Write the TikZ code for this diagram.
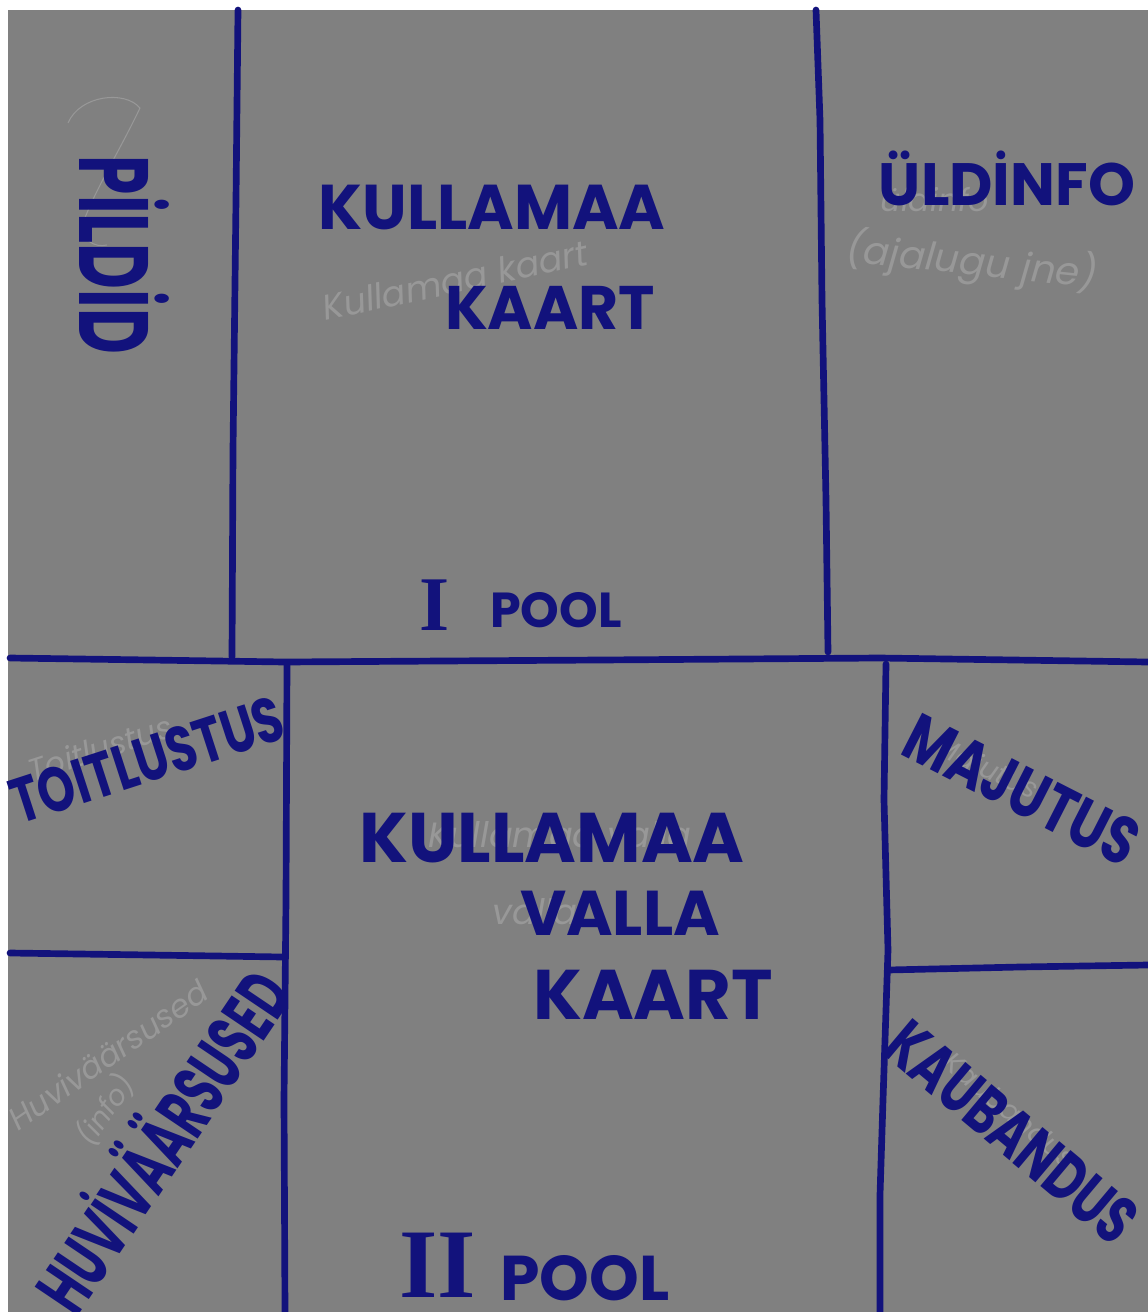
\documentclass[tikz,border=0pt]{standalone}
\usepackage{fontspec}
\setmainfont{Poppins}
\newfontfamily\numfont{Liberation Serif}
\usepackage{xcolor}
\usepackage{tikz}
\definecolor{marker}{RGB}{18,18,124}
\definecolor{paper}{RGB}{128,128,128}
\definecolor{pencil}{RGB}{152,152,152}

\begin{document}
\begin{tikzpicture}[x=0.02cm,y=-0.02cm,
  ink/.style={draw=marker,line width=3.8pt,line cap=round,line join=round},
  word/.style={text=marker,font=\bfseries\fontsize{#1}{#1}\selectfont,inner sep=0pt},
  note/.style={text=pencil,font=\itshape\fontsize{#1}{#1}\selectfont,inner sep=0pt}]
  % sheet
  \fill[white] (0,0) rectangle (1148,1312);
  \fill[paper] (8,10) rectangle (1148,1312);
  \useasboundingbox (0,0) rectangle (1148,1312);

  % marker lines
  \draw[ink] (238,10) -- (236,200) -- (233,450) -- (232,657);
  \draw[ink] (816,10) -- (820,120) -- (822,300) -- (826,500) -- (828,652);
  \draw[ink] (10,658) -- (150,660) -- (285,662) -- (600,660) -- (880,658) -- (1148,662);
  \draw[ink] (287,664) -- (286,900) -- (284,1100) -- (285,1312);
  \draw[ink] (886,664) -- (884,800) -- (888,950) -- (883,1100) -- (880,1195) -- (880,1312);
  \draw[ink] (10,953) -- (150,955) -- (283,957);
  \draw[ink] (888,970) -- (1020,967) -- (1148,965);

  % pencil notes
  \draw[pencil,line width=0.6pt] (68,123) .. controls (80,95) and (125,90) .. (140,108)
    .. controls (120,150) and (95,190) .. (83,223) .. controls (80,240) and (95,248) .. (107,245);
  \node[note=20,rotate=12] (n1) at (455,280) {Kullamaa kaart};
  \node[note=18] (n2) at (935,200) {üldinfo};
  \node[note=22,rotate=-6] (n3) at (972,262) {(ajalugu jne)};
  \node[note=18,rotate=18] (n4) at (100,748) {Toitlustus};
  \node[note=16,rotate=-25] (n5) at (985,770) {Majutus};
  \node[note=20] (n6) at (560,835) {Kullamaa valla};
  \node[note=20] (n7) at (535,912) {valla};
  \node[note=16,rotate=-40] (n8) at (1010,1110) {Kaubandus};
  \node[note=18,rotate=35] (n9) at (108,1055) {Huviväärsused};
  \node[note=16,rotate=55] (n10) at (105,1110) {(info)};

  % marker words, top half
  \node[word=56,rotate=-90,xscale=0.64] (pildid) at (124,255) {PİLDİD};
  \node[word=36] (map1) at (492,208) {KULLAMAA};
  \node[word=35] (map1b) at (550,308) {KAART};
  \node[word=34] (info) at (1007,178) {ÜLDİNFO};
  \node[text=marker,font=\numfont\bfseries\fontsize{44}{44}\selectfont,inner sep=0pt] (p1) at (435,605) {I};
  \node[word=28] (pool1) at (556,610) {POOL};

  % marker words, bottom half
  \node[word=36,rotate=18,xscale=0.75] (food) at (147,760) {TOITLUSTUS};
  \node[word=38,rotate=-27,xscale=0.78] (stay) at (1022,790) {MAJUTUS};
  \node[word=40] (map2) at (552,838) {KULLAMAA};
  \node[word=36] (map2b) at (620,913) {VALLA};
  \node[word=40] (map2c) at (653,995) {KAART};
  \node[word=38,rotate=-40,xscale=0.72] (shop) at (1012,1132) {KAUBANDUS};
  \node[word=42,rotate=56,xscale=0.62] (fun) at (158,1138) {HUVİVÄÄRSUSED};
  \node[text=marker,font=\numfont\bfseries\fontsize{56}{56}\selectfont,inner sep=0pt] (p2) at (438,1265) {II};
  \node[word=36] (pool2) at (585,1278) {POOL};
\end{tikzpicture}
\end{document}
